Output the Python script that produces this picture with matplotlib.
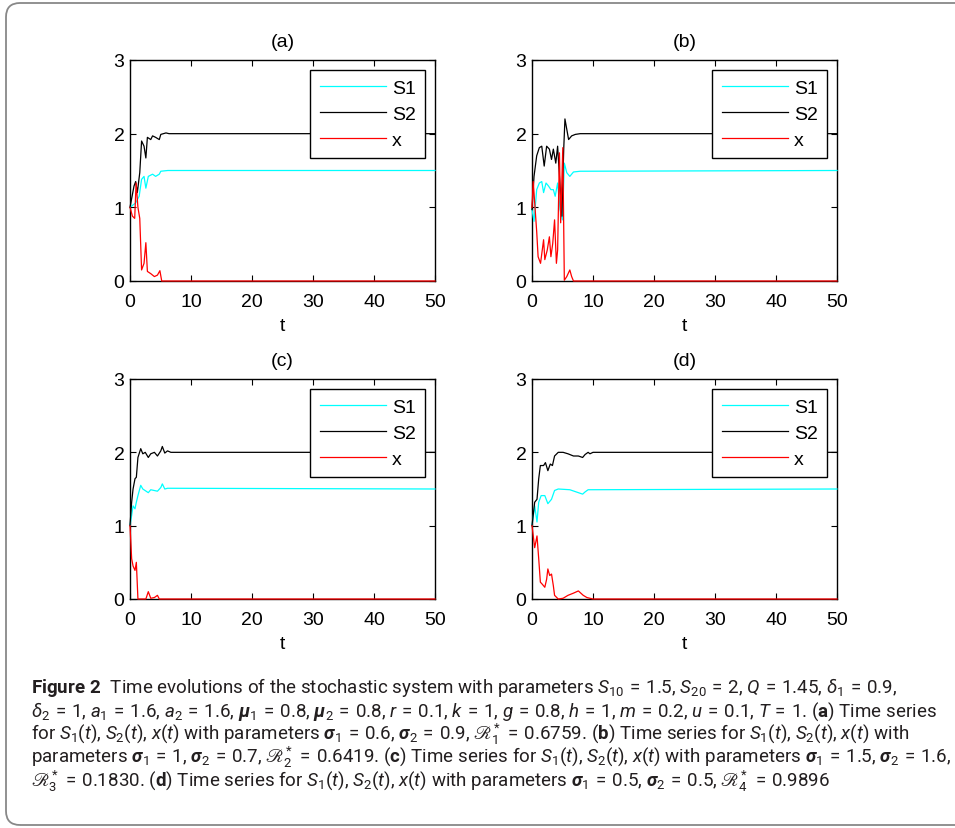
import matplotlib
matplotlib.use("Agg")
import matplotlib.pyplot as plt
from matplotlib.patches import FancyBboxPatch
from matplotlib.transforms import IdentityTransform

# ---------------- data ----------------
a_S1_t = [0, 0.93, 1.5, 1.9, 2.3, 2.6, 3.0, 3.7, 4.2, 4.8, 5.05, 6.2, 50]
a_S1_y = [1.0, 1.06, 1.15, 1.38, 1.42, 1.26, 1.42, 1.45, 1.42, 1.45, 1.49, 1.5, 1.5]
a_S2_t = [0, 0.66, 0.93, 1.2, 1.6, 1.9, 2.3, 2.6, 2.85, 3.4, 3.7, 4.2, 4.8, 5.05, 5.9, 6.4, 50]
a_S2_y = [1.0, 1.29, 1.35, 1.2, 1.47, 1.9, 1.83, 1.67, 1.95, 1.92, 1.97, 1.95, 1.92, 1.99, 2.01, 2.0, 2.0]
a_x_t = [0, 0.4, 0.77, 1.0, 1.3, 1.6, 1.9, 2.3, 2.6, 2.85, 3.4, 4.0, 4.5, 4.9, 5.2, 50]
a_x_y = [1.0, 0.88, 0.85, 1.33, 1.0, 0.85, 0.15, 0.24, 0.52, 0.13, 0.1, 0.06, 0.08, 0.14, 0.0, 0.0]

b_S1_t = [0, 0.33, 0.77, 1.2, 1.6, 1.9, 2.3, 2.7, 3.1, 3.5, 3.8, 4.2, 4.6, 5.0, 5.3, 5.7, 6.2, 6.8, 7.9, 50]
b_S1_y = [0.97, 0.81, 1.24, 1.33, 1.35, 1.2, 1.33, 1.29, 1.24, 1.24, 1.15, 1.33, 0.97, 0.83, 1.6, 1.47, 1.42, 1.48, 1.49, 1.5]
b_S2_t = [0, 0.33, 0.77, 1.2, 1.6, 2.0, 2.4, 2.85, 3.2, 3.5, 3.9, 4.2, 4.6, 4.9, 5.2, 5.4, 6.0, 6.5, 7.1, 7.9, 50]
b_S2_y = [0.97, 1.42, 1.7, 1.81, 1.83, 1.56, 1.83, 1.79, 1.65, 1.79, 1.6, 1.83, 1.29, 0.88, 1.79, 2.2, 1.92, 1.97, 1.99, 2.0, 2.0]
b_x_t = [0, 0.2, 0.77, 1.0, 1.4, 1.9, 2.1, 2.5, 2.85, 3.1, 3.4, 3.7, 4.0, 4.2, 4.5, 4.7, 5.05, 5.3, 5.7, 6.2, 6.5, 6.8, 50]
b_x_y = [1.0, 1.35, 0.67, 0.33, 0.24, 0.56, 0.29, 0.42, 0.6, 0.33, 0.51, 0.83, 0.24, 0.42, 1.74, 0.79, 1.81, 0.01, 0.06, 0.15, 0.06, 0.0, 0.0]

c_S1_t = [0, 0.27, 0.5, 0.82, 1.04, 1.3, 1.76, 2.1, 3.0, 3.4, 4.5, 5.05, 5.3, 5.7, 6.15, 50]
c_S1_y = [1.0, 1.14, 1.27, 1.23, 1.32, 1.41, 1.55, 1.5, 1.45, 1.49, 1.47, 1.52, 1.57, 1.5, 1.51, 1.5]
c_S2_t = [0, 0.27, 0.5, 0.82, 1.04, 1.3, 1.76, 2.1, 2.5, 3.0, 3.4, 4.0, 4.5, 5.05, 5.3, 5.7, 6.15, 6.7, 50]
c_S2_y = [1.0, 1.32, 1.5, 1.64, 1.66, 1.93, 2.05, 1.98, 2.0, 1.93, 1.98, 2.0, 1.95, 2.02, 2.08, 1.99, 2.02, 2.0, 2.0]
c_x_t = [0, 0.27, 0.5, 0.82, 1.04, 1.3, 2.6, 3.0, 3.4, 4.0, 4.5, 4.8, 50]
c_x_y = [1.0, 0.55, 0.45, 0.39, 0.5, 0.0, 0.0, 0.1, 0.01, 0.02, 0.05, 0.0, 0.0]

d_S1_t = [0, 0.44, 0.82, 1.1, 1.5, 2.1, 2.6, 3.2, 3.7, 4.3, 6.2, 7.6, 8.3, 8.7, 9.2, 50]
d_S1_y = [1.0, 1.27, 1.05, 1.32, 1.41, 1.41, 1.3, 1.36, 1.48, 1.5, 1.49, 1.45, 1.43, 1.46, 1.49, 1.5]
d_S2_t = [0, 0.44, 0.82, 1.1, 1.37, 1.9, 2.2, 2.6, 3.0, 3.35, 3.7, 4.3, 5.1, 5.9, 6.8, 7.6, 8.3, 8.7, 9.2, 9.5, 10.0, 50]
d_S2_y = [1.0, 1.32, 1.36, 1.64, 1.82, 1.82, 1.86, 1.75, 1.84, 1.82, 1.95, 2.0, 2.0, 1.98, 1.95, 1.95, 1.93, 1.97, 2.0, 1.98, 2.0, 2.0]
d_x_t = [0, 0.44, 0.82, 1.1, 1.37, 1.7, 2.1, 2.4, 2.6, 2.9, 3.2, 3.5, 3.7, 4.3, 5.1, 5.9, 6.8, 7.6, 8.0, 8.4, 9.0, 9.5, 10.0, 50]
d_x_y = [1.0, 0.7, 0.86, 0.55, 0.23, 0.2, 0.16, 0.27, 0.41, 0.32, 0.34, 0.18, 0.05, 0.0, 0.01, 0.05, 0.08, 0.11, 0.08, 0.05, 0.02, 0.01, 0.0, 0.0]

panel_titles = ["(a)", "(b)", "(c)", "(d)"]
series_labels = ["S1", "S2", "x"]
series_colors = ["#00FFFF", "#000000", "#FF0000"]
xticks = [0, 10, 20, 30, 40, 50]
yticks = [0, 1, 2, 3]
xlabel = "t"

panels = [
    [(a_S1_t, a_S1_y), (a_S2_t, a_S2_y), (a_x_t, a_x_y)],
    [(b_S1_t, b_S1_y), (b_S2_t, b_S2_y), (b_x_t, b_x_y)],
    [(c_S1_t, c_S1_y), (c_S2_t, c_S2_y), (c_x_t, c_x_y)],
    [(d_S1_t, d_S1_y), (d_S2_t, d_S2_y), (d_x_t, d_x_y)],
]

caption_lines = [
    r"$\mathbf{Figure\ 2}$  Time evolutions of the stochastic system with parameters $S_{10}\,=\,1.5$, $S_{20}\,=\,2$, $Q\,=\,1.45$, $\delta_1\,=\,0.9$,",
    r"$\delta_2\,=\,1$, $a_1\,=\,1.6$, $a_2\,=\,1.6$, $\mathbfit{\mu}_1\,=\,0.8$, $\mathbfit{\mu}_2\,=\,0.8$, $r\,=\,0.1$, $k\,=\,1$, $g\,=\,0.8$, $h\,=\,1$, $m\,=\,0.2$, $u\,=\,0.1$, $T\,=\,1$. ($\mathbf{a}$) Time series",
    r"for $S_1(t)$, $S_2(t)$, $x(t)$ with parameters $\mathbfit{\sigma}_1\,=\,0.6$, $\mathbfit{\sigma}_2\,=\,0.9$, $ℛ_1^*\,=\,0.6759$. ($\mathbf{b}$) Time series for $S_1(t)$, $S_2(t)$, $x(t)$ with",
    r"parameters $\mathbfit{\sigma}_1\,=\,1$, $\mathbfit{\sigma}_2\,=\,0.7$, $ℛ_2^*\,=\,0.6419$. ($\mathbf{c}$) Time series for $S_1(t)$, $S_2(t)$, $x(t)$ with parameters $\mathbfit{\sigma}_1\,=\,1.5$, $\mathbfit{\sigma}_2\,=\,1.6$,",
    r"$ℛ_3^*\,=\,0.1830$. ($\mathbf{d}$) Time series for $S_1(t)$, $S_2(t)$, $x(t)$ with parameters $\mathbfit{\sigma}_1\,=\,0.5$, $\mathbfit{\sigma}_2\,=\,0.5$, $ℛ_4^*\,=\,0.9896$",
]
caption_right_px = [898, 932, 897, 945, 857]

# ---------------- style ----------------
CAP_FONT = "Roboto"
plt.rcParams["font.family"] = ["Liberation Sans", "DejaVu Sans"]
plt.rcParams["mathtext.fontset"] = "custom"
plt.rcParams["mathtext.rm"] = CAP_FONT
plt.rcParams["mathtext.it"] = CAP_FONT + ":italic"
plt.rcParams["mathtext.bf"] = CAP_FONT + ":bold"
plt.rcParams["mathtext.bfit"] = CAP_FONT + ":italic:bold"
plt.rcParams["mathtext.fallback"] = "stix"

FS = 14
W, H = 955, 829
fig = plt.figure(figsize=(W / 100, H / 100), dpi=100)

# positions in pixels: (left, top, right, bottom)
boxes = [(130, 61, 435, 282), (532, 61, 837, 282), (130, 380, 435, 600), (532, 380, 837, 600)]

for i, (box, series) in enumerate(zip(boxes, panels)):
    l, t, r, b = box
    ax = fig.add_axes([l / W, 1 - b / H, (r - l) / W, (b - t) / H])
    for (tt, yy), lab, col in zip(series, series_labels, series_colors):
        ax.plot(tt, yy, color=col, lw=0.9, label=lab, clip_on=False, zorder=3)
    ax.set_xlim(0, 50)
    ax.set_ylim(0, 3)
    ax.set_xticks(xticks)
    ax.set_yticks(yticks)
    ax.tick_params(direction="in", length=4, width=0.8, top=True, right=True,
                   labelsize=FS, colors="black")
    ax.tick_params(axis="x", pad=8.5)
    ax.tick_params(axis="y", pad=4)
    for s in ax.spines.values():
        s.set_linewidth(1.0)
    ax.set_title(panel_titles[i], fontsize=FS, pad=10)
    ax.set_xlabel(xlabel, fontsize=FS, labelpad=5)
    leg = ax.legend(loc="upper right", fontsize=FS, frameon=True, fancybox=False,
                    edgecolor="black", framealpha=1, handlelength=3.4,
                    handletextpad=0.3, borderpad=0.5, labelspacing=0.42,
                    borderaxespad=0.5)
    leg.get_frame().set_linewidth(1.0)
    for line in leg.get_lines():
        line.set_linewidth(0.9)

# caption
baselines = [693, 716.5, 740, 763.5, 787]
x0 = 31
cap_texts = []
for txt, yb in zip(caption_lines, baselines):
    cap_texts.append(fig.text(x0 / W, 1 - yb / H, txt, fontsize=11, family=CAP_FONT,
                              color="#231f20", va="baseline", ha="left"))
# fit caption size to the reference line lengths
renderer = fig.canvas.get_renderer()
measured = sum(t.get_window_extent(renderer).width for t in cap_texts)
target = sum(r - x0 for r in caption_right_px)
new_size = 11 * target / measured
for t in cap_texts:
    t.set_fontsize(new_size)

# frame
frame = FancyBboxPatch((6, 3), 1000, 822, boxstyle="round,pad=0,rounding_size=14",
                       transform=IdentityTransform(), fill=False,
                       edgecolor="#888888", lw=1.3)
fig.patches.append(frame)

fig.savefig("out.png", dpi=100)
